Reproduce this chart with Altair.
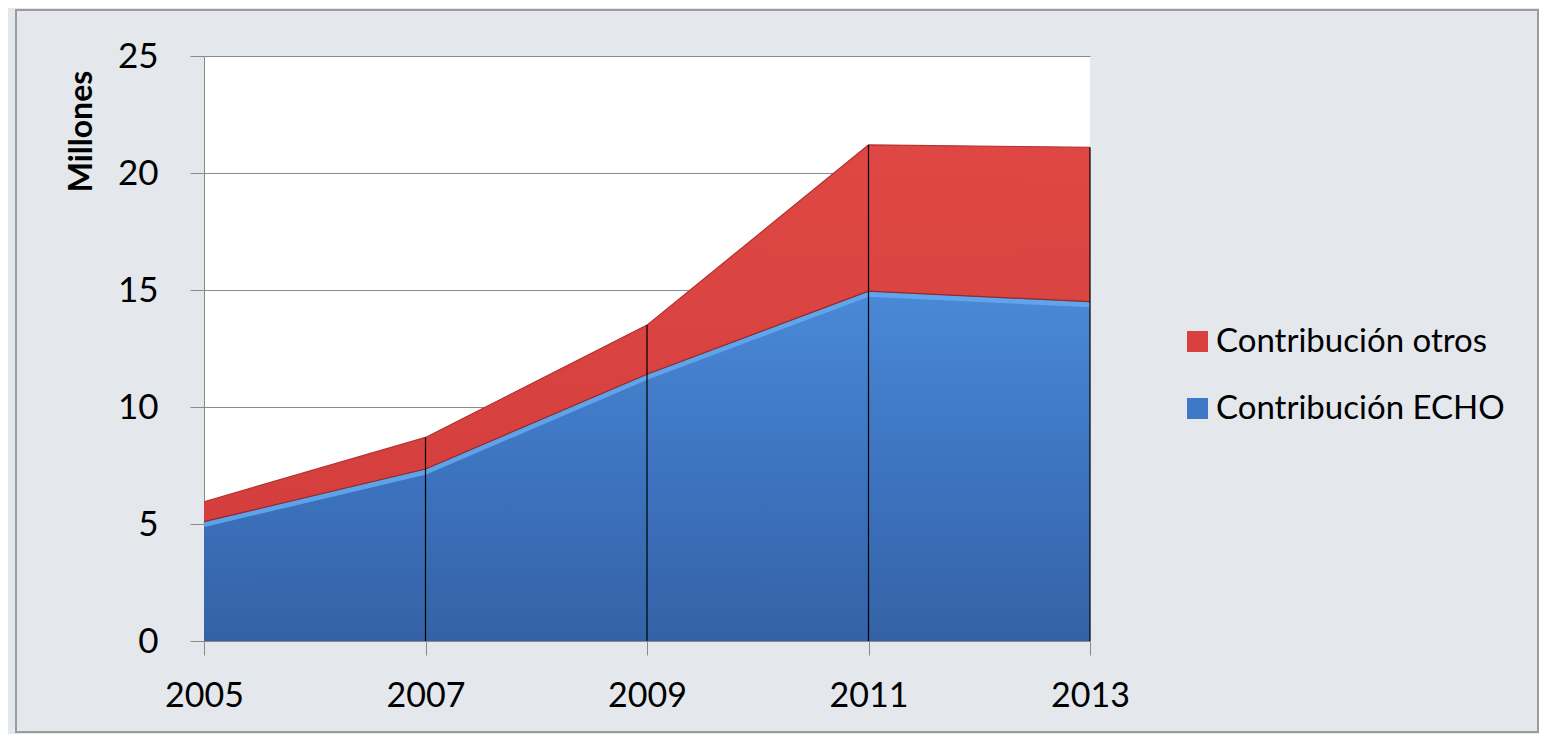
import altair as alt
import pandas as pd

years = [2005, 2007, 2009, 2011, 2013]
echo = [5.1, 7.35, 11.4, 14.95, 14.5]
otros = [0.85, 1.35, 2.1, 6.25, 6.6]
series = ["Contribución otros", "Contribución ECHO"]
colors = ["#d8413f", "#3f78c6"]
y_ticks = [0, 5, 10, 15, 20, 25]

wide = pd.DataFrame({"year": years, "echo": echo, "otros": otros})
wide["total"] = wide["echo"] + wide["otros"]

long_rows = []
for i, y in enumerate(years):
    long_rows.append({"year": y, "serie": series[1], "valor": echo[i], "orden": 0})
    long_rows.append({"year": y, "serie": series[0], "valor": otros[i], "orden": 1})
long = pd.DataFrame(long_rows)

FONT = "Lato"
xscale = alt.Scale(domain=[2005, 2013], nice=False, zero=False)
yscale = alt.Scale(domain=[0, 25], nice=False)

x_axis = alt.Axis(values=years, format="d", title=None, grid=False,
                  labelFont=FONT, labelFontSize=34, labelColor="#000000",
                  labelPadding=24, tickSize=14, tickColor="#8a8a8a",
                  domainColor="#8a8a8a", labelFlush=False)
y_axis = alt.Axis(values=y_ticks, title="Millones", grid=True, gridColor="#8a8a8a",
                  gridWidth=1, labelFont=FONT, labelFontSize=35, labelColor="#000000",
                  labelPadding=32, tickSize=14, tickColor="#8a8a8a",
                  domainColor="#8a8a8a", titleFont=FONT, titleFontSize=32,
                  titleFontWeight="bold", titleColor="#000000", titleAngle=270,
                  titleAlign="center", titleBaseline="middle", titleX=-123, titleY=75)

legend_layer = alt.Chart(long).mark_area().encode(
    x=alt.X("year:Q", scale=xscale, axis=x_axis),
    y=alt.Y("valor:Q", stack="zero", scale=yscale, axis=y_axis),
    color=alt.Color("serie:N", scale=alt.Scale(domain=series, range=colors),
                    legend=alt.Legend(title=None, orient="none", legendX=977, legendY=269,
                                      symbolType="square", symbolSize=441,
                                      symbolStrokeWidth=0, labelFont=FONT,
                                      labelFontSize=33, labelColor="#000000",
                                      labelOffset=2, rowPadding=33, labelLimit=400)),
    order=alt.Order("orden:Q"),
)

blue_grad = alt.Gradient(gradient="linear", x1=0, x2=0, y1=0, y2=1,
                         stops=[alt.GradientStop(color="#4a89d7", offset=0),
                                alt.GradientStop(color="#3d74c0", offset=0.5),
                                alt.GradientStop(color="#3462a6", offset=1)])
red_grad = alt.Gradient(gradient="linear", x1=0, x2=0, y1=0, y2=1,
                        stops=[alt.GradientStop(color="#de4744", offset=0),
                               alt.GradientStop(color="#d43f3d", offset=1)])

base = alt.Chart(wide)
frame = base.mark_rect(fill=None, stroke="#9c9c9c", strokeWidth=2).encode(
    x=alt.value(-188), x2=alt.value(1334), y=alt.value(-46), y2=alt.value(676))
blue = base.mark_area(fill=blue_grad).encode(
    x=alt.X("year:Q", scale=xscale), y=alt.Y("echo:Q", scale=yscale))
red = base.mark_area(fill=red_grad).encode(
    x=alt.X("year:Q", scale=xscale), y=alt.Y("total:Q", scale=yscale), y2="echo:Q")
highlight = base.mark_line(color="#64aaf0", strokeWidth=5, yOffset=3, opacity=0.85).encode(
    x=alt.X("year:Q", scale=xscale), y=alt.Y("echo:Q", scale=yscale))
edge = base.mark_line(color="#8e2b2b", strokeWidth=1.2).encode(
    x=alt.X("year:Q", scale=xscale), y=alt.Y("echo:Q", scale=yscale))
redtop = base.mark_line(color="#b43434", strokeWidth=1.2).encode(
    x=alt.X("year:Q", scale=xscale), y=alt.Y("total:Q", scale=yscale))
drops = base.transform_filter(alt.datum.year > 2005).mark_rule(
    color="#000000", strokeWidth=1.2).encode(
    x=alt.X("year:Q", scale=xscale), y=alt.Y("total:Q", scale=yscale),
    y2=alt.datum(0))

chart = alt.layer(legend_layer, frame, blue, red, highlight, edge, redtop, drops).properties(
    width=886, height=585,
    autosize=alt.AutoSizeParams(type="none"),
    padding={"left": 196, "top": 48, "right": 449, "bottom": 93},
    background="#e4e7ec",
).configure_view(fill="#ffffff", stroke=None)

chart.save("out.html", embed_options={"renderer": "svg", "actions": False})
